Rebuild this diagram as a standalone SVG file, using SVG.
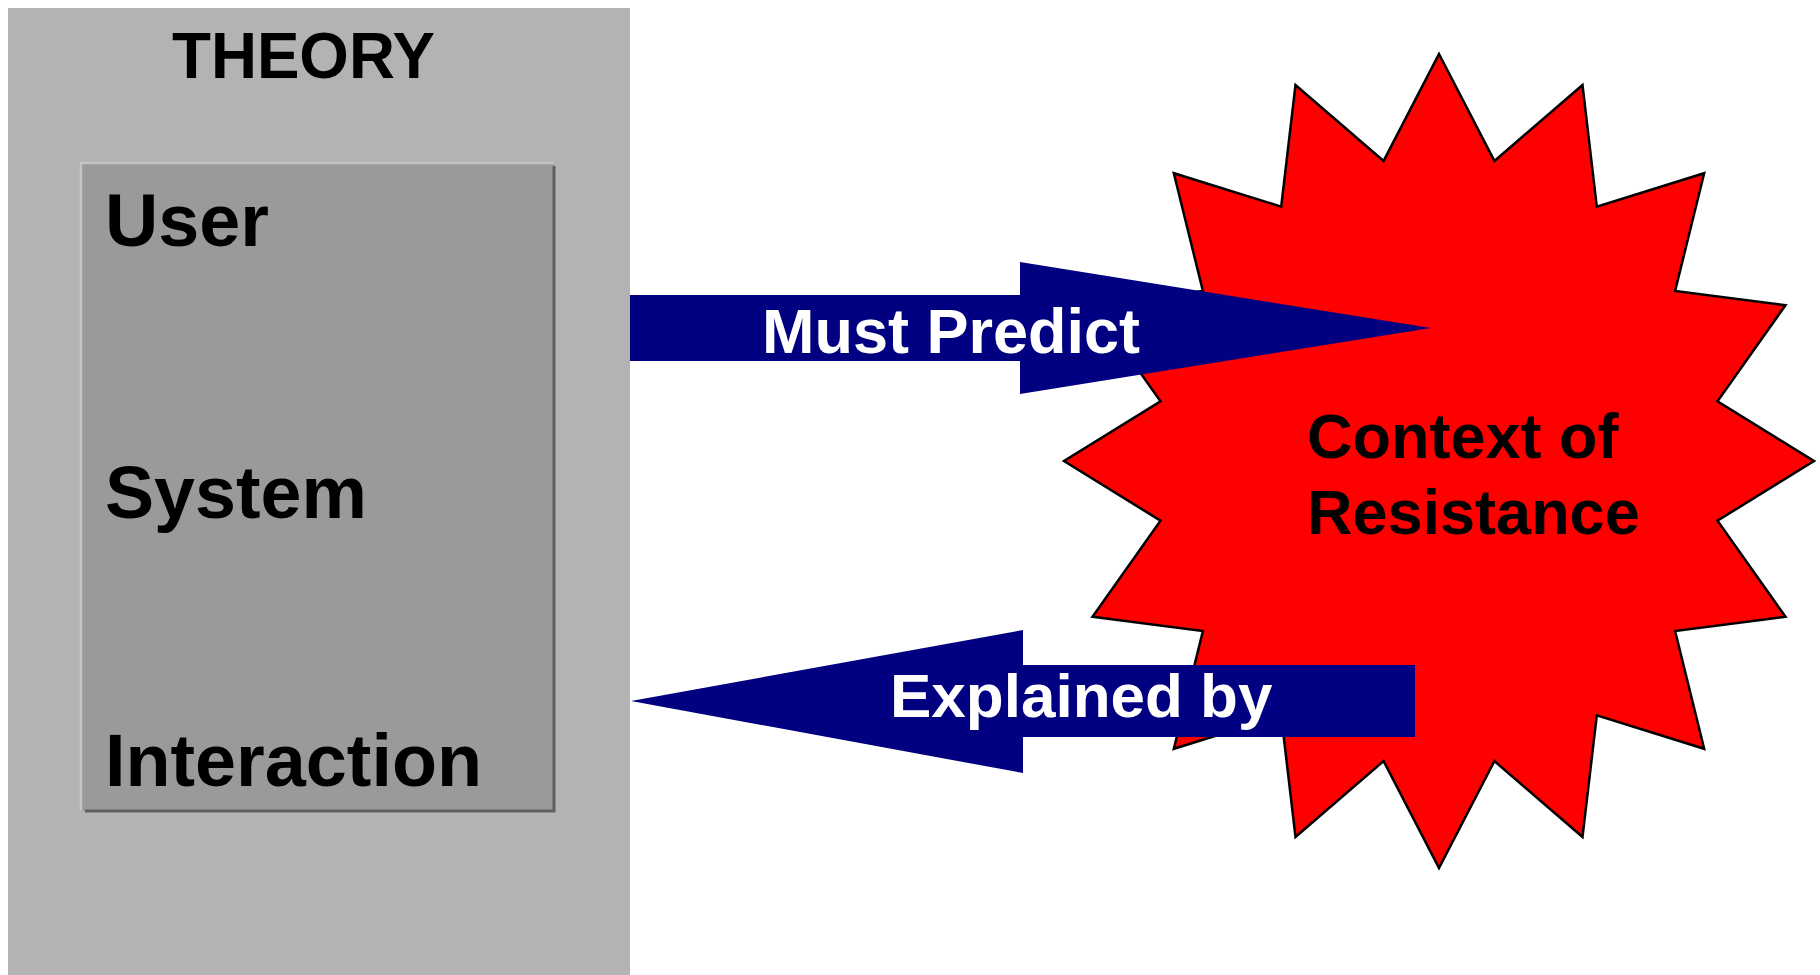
<svg xmlns="http://www.w3.org/2000/svg" width="1820" height="975" viewBox="0 0 1820 975">
<style>
.t{font-family:"Liberation Sans",Arial,sans-serif;font-weight:bold}
.blk{fill:#000}
.wht{fill:#fff}
.arrow{fill:#000080}
</style>
<rect x="0" y="0" width="1820" height="975" fill="#fff"/>
<g id="theory">
<rect x="8" y="8" width="622" height="967" fill="#b3b3b3"/>
<text class="t blk" x="303.5" y="78" font-size="64" text-anchor="middle" textLength="263" lengthAdjust="spacingAndGlyphs">THEORY</text>
</g>
<g id="components">
<rect x="81" y="163" width="473" height="648" fill="#9a9a9a"/>
<polyline points="81,811 81,163 554,163" fill="none" stroke="#c4c4c4" stroke-width="2.5"/>
<polyline points="85,811 554,811 554,166" fill="none" stroke="#606060" stroke-width="3"/>
<text class="t blk" x="105" y="246" font-size="75" textLength="164" lengthAdjust="spacingAndGlyphs">User</text>
<text class="t blk" x="105" y="518" font-size="75" textLength="262" lengthAdjust="spacingAndGlyphs">System</text>
<text class="t blk" x="105" y="786" font-size="75" textLength="377" lengthAdjust="spacingAndGlyphs">Interaction</text>
</g>
<g id="context">
<polygon fill="#ff0000" stroke="#000" stroke-width="2.5" stroke-linejoin="miter" points="1439,54 1494.4,160.9 1582.5,85 1596.8,206.6 1704.2,173.2 1675.1,291 1785.5,305.2 1717.5,401.3 1814,461 1717.5,520.7 1785.5,616.8 1675.1,631 1704.2,748.8 1596.8,715.4 1582.5,837 1494.4,761.1 1439,868 1383.6,761.1 1295.5,837 1281.2,715.4 1173.8,748.8 1202.9,631 1092.5,616.8 1160.5,520.7 1064,461 1160.5,401.3 1092.5,305.2 1202.9,291 1173.8,173.2 1281.2,206.6 1295.5,85 1383.6,160.9"/>
<text class="t blk" x="1307" y="458" font-size="63">Context of</text>
<text class="t blk" x="1307" y="534" font-size="63">Resistance</text>
</g>
<g id="connectors">
<g id="must-predict">
<polygon class="arrow" points="630,295 1020,295 1020,262 1431,328 1020,394 1020,361 630,361"/>
<text class="t wht" x="762" y="353" font-size="63">Must Predict</text>
</g>
<g id="explained-by">
<polygon class="arrow" points="1415,665 1023,665 1023,630 631,701 1023,773 1023,737 1415,737"/>
<text class="t wht" x="890" y="717" font-size="62">Explained by</text>
</g>
</g>
</svg>
